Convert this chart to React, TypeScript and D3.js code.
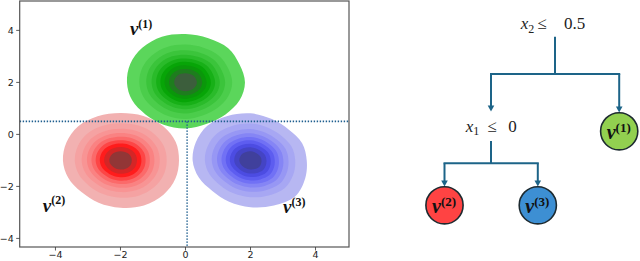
import React from 'react';
import * as d3 from 'd3';

// ---------- data ----------
const xTicks = [-4, -2, 0, 2, 4];
const yTicks = [-4, -2, 0, 2, 4];
const xDomain = [-5.1, 5.03];
const yDomain = [-4.33, 5.13];
const splitX2 = 0.5; // horizontal split
const splitX1 = 0.05; // vertical split

// seaborn-style iso-proportion levels (thresh .05, 10 levels)
const levelProps = [0.05, 0.1556, 0.2611, 0.3667, 0.4722, 0.5778, 0.6833, 0.7889, 0.8944];

// blob outer outlines: radius (data units) at 16 angles, counter-clockwise from east
const redCenter = [-2, -1];
const redRadii = [1.8, 1.84, 1.86, 1.85, 1.82, 1.84, 1.85, 1.8, 1.77, 1.74, 1.71, 1.76, 1.82, 1.88, 1.87, 1.83];
const redColors = ['#f2b1b1', '#f5a2a2', '#f89494', '#fa8282', '#fb6a6a', '#fd4646', '#ff1c1c', '#d42626', '#923636'];

const blueCenter = [2, -1];
const blueRadii = [1.73, 1.72, 1.67, 1.72, 1.81, 1.85, 1.88, 1.82, 1.78, 1.72, 1.66, 1.72, 1.8, 1.88, 1.95, 1.82];
const blueColors = ['#b7b7f2', '#a7a7f3', '#9797f4', '#8585f5', '#7171f5', '#5d5df0', '#4c4ce2', '#4444c4', '#40409c'];

const greenCenter = [0, 2];
const greenRadii = [1.83, 1.8, 1.86, 1.84, 1.86, 1.9, 1.88, 1.84, 1.8, 1.78, 1.74, 1.76, 1.77, 1.72, 1.74, 1.8];
const greenColors = ['#5bd65b', '#4bcd4b', '#3bc43b', '#2abb2a', '#17b017', '#07a507', '#0a970a', '#1e7d1e', '#3c5e3c'];

const blobLabels = [
  { sup: '(1)', x: -1.71, y: 3.82 },
  { sup: '(2)', x: -4.39, y: -2.97 },
  { sup: '(3)', x: 3.0, y: -3.03 },
];

// decision tree
const rootLabel = { v: 'x', sub: '2', op: '≤', thr: '0.5' };
const innerLabel = { v: 'x', sub: '1', op: '≤', thr: '0' };
const leafNames = ['(2)', '(3)', '(1)'];
const leafColors = ['#ff4343', '#3d8fd3', '#92d050'];

// ---------- layout ----------
const W = 640, H = 261;
const plot = { left: 19.7, right: 349, top: 1, bottom: 247 };
const treeCol = '#1d6488';

const x = d3.scaleLinear().domain(xDomain).range([plot.left, plot.right]);
const y = d3.scaleLinear().domain(yDomain).range([plot.bottom, plot.top]);

const p0 = Math.log(levelProps[0]);
const ratios = levelProps.map((p) => Math.sqrt(Math.log(p) / p0));

const line = d3
  .line<[number, number]>()
  .x((d) => d[0])
  .y((d) => d[1])
  .curve(d3.curveCatmullRomClosed.alpha(0.5));

function blobPaths(center: number[], radii: number[]) {
  const n = radii.length;
  const mean = d3.mean(radii) as number;
  return ratios.map((k, li) => {
    const pts: [number, number][] = radii.map((r, i) => {
      const a = (i / n) * Math.PI * 2;
      const rr = k * (mean + (r - mean) * (li === 0 ? 1 : 0.7));
      return [x(center[0] + rr * Math.cos(a)), y(center[1] + rr * Math.sin(a))];
    });
    return line(pts) as string;
  });
}

const blobs = [
  { c: redCenter, r: redRadii, col: redColors },
  { c: blueCenter, r: blueRadii, col: blueColors },
  { c: greenCenter, r: greenRadii, col: greenColors },
];

const nuFont = "'Liberation Serif', 'DejaVu Serif', serif";

function Nu({ px, py, sup, size, supSize }: { px: number; py: number; sup: string; size: number; supSize: number }) {
  return (
    <text x={px} y={py} fontFamily={nuFont} fontWeight="bold" fontStyle="italic" fontSize={size} fill="#111">
      ν
      <tspan fontStyle="normal" fontSize={supSize} dy={-size * 0.38}>
        {sup}
      </tspan>
    </text>
  );
}

function Cond({ x0, by, lab, opDx, thrDx }: { x0: number; by: number; lab: typeof rootLabel; opDx: number; thrDx: number }) {
  return (
    <text y={by} fontFamily={nuFont} fontSize={17} fill="#222">
      <tspan x={x0} fontStyle="italic">{lab.v}</tspan>
      <tspan fontSize={12} dy={3.5}>{lab.sub}</tspan>
      <tspan x={x0 + opDx} dy={-3.5}>{lab.op}</tspan>
      <tspan x={x0 + thrDx}>{lab.thr}</tspan>
    </text>
  );
}

function Arrow({ x1, y1, x2, y2 }: { x1: number; y1: number; x2: number; y2: number }) {
  return (
    <g>
      <line x1={x1} y1={y1} x2={x2} y2={y2 - 5} stroke={treeCol} strokeWidth={2} />
      <path d={`M${x2 - 3.3},${y2 - 6} L${x2 + 3.3},${y2 - 6} L${x2},${y2} Z`} fill={treeCol} />
    </g>
  );
}

export default function App() {
  // tree node positions
  const root = { x: 555, y: 29.5 };
  const inner = { x: 491, y: 131.5 };
  const leaves = [
    { x: 444.5, y: 205.3 },
    { x: 537.8, y: 205.3 },
    { x: 619.2, y: 131.3 },
  ];
  const R = 18.6;
  const topBar = 74;
  const botBar = 163.3;

  return (
    <div style={{ position: 'fixed', left: 0, top: 0 }}>
      <svg width={W} height={H} style={{ display: 'block', background: '#fff' }}>
        {/* blobs */}
        {blobs.map((b, bi) => (
          <g key={bi}>
            {blobPaths(b.c, b.r).map((d, i) => (
              <path key={i} d={d} fill={b.col[i]} stroke="none" />
            ))}
          </g>
        ))}
        {/* split lines */}
        <line x1={plot.left} x2={plot.right} y1={y(splitX2)} y2={y(splitX2)} stroke="#1f5f8f" strokeWidth={1.6} strokeDasharray="1.4 1.6" />
        <line x1={x(splitX1)} x2={x(splitX1)} y1={y(splitX2)} y2={plot.bottom} stroke="#1f5f8f" strokeWidth={1.6} strokeDasharray="1.4 1.6" />
        {/* frame */}
        <rect x={plot.left} y={plot.top} width={plot.right - plot.left} height={plot.bottom - plot.top} fill="none" stroke="#555" strokeWidth={1.2} />
        {xTicks.map((t) => (
          <g key={'x' + t}>
            <line x1={x(t)} x2={x(t)} y1={plot.bottom} y2={plot.bottom + 3.5} stroke="#333" strokeWidth={0.8} />
            <text x={x(t)} y={plot.bottom + 10.5} textAnchor="middle" fontFamily="'DejaVu Sans', sans-serif" fontSize={9.5} fill="#222">
              {t < 0 ? '\u2212' + Math.abs(t) : t}
            </text>
          </g>
        ))}
        {yTicks.map((t) => (
          <g key={'y' + t}>
            <line x1={plot.left - 3.5} x2={plot.left} y1={y(t)} y2={y(t)} stroke="#333" strokeWidth={0.8} />
            <text x={plot.left - 6} y={y(t) + 3.4} textAnchor="end" fontFamily="'DejaVu Sans', sans-serif" fontSize={9.5} fill="#222">
              {t < 0 ? '\u2212' + Math.abs(t) : t}
            </text>
          </g>
        ))}
        {/* blob labels */}
        {blobLabels.map((l, i) => (
          <Nu key={i} px={x(l.x)} py={y(l.y)} sup={l.sup} size={19} supSize={12} />
        ))}

        {/* tree */}
        <Cond x0={520.7} by={29.3} lab={rootLabel} opDx={16.5} thrDx={43.3} />
        <line x1={root.x} x2={root.x} y1={36.7} y2={topBar} stroke={treeCol} strokeWidth={2} />
        <line x1={inner.x - 1} x2={leaves[2].x + 1} y1={topBar} y2={topBar} stroke={treeCol} strokeWidth={2} />
        <Arrow x1={inner.x} y1={topBar} x2={inner.x} y2={111.5} />
        <Arrow x1={leaves[2].x} y1={topBar} x2={leaves[2].x} y2={112.5} />
        <Cond x0={465.7} by={131.7} lab={innerLabel} opDx={21.6} thrDx={42.6} />
        <line x1={inner.x} x2={inner.x} y1={141} y2={botBar} stroke={treeCol} strokeWidth={2} />
        <line x1={leaves[0].x - 1} x2={leaves[1].x + 1} y1={botBar} y2={botBar} stroke={treeCol} strokeWidth={2} />
        <Arrow x1={leaves[0].x} y1={botBar} x2={leaves[0].x} y2={186.5} />
        <Arrow x1={leaves[1].x} y1={botBar} x2={leaves[1].x} y2={186.5} />
        {leaves.map((l, i) => (
          <g key={'leaf' + i}>
            <circle cx={l.x} cy={l.y} r={R} fill={leafColors[i]} stroke="#1d2a30" strokeWidth={1.6} />
            <Nu px={l.x - 12.5} py={l.y + 8} sup={leafNames[i]} size={20} supSize={13} />
          </g>
        ))}
      </svg>
    </div>
  );
}
